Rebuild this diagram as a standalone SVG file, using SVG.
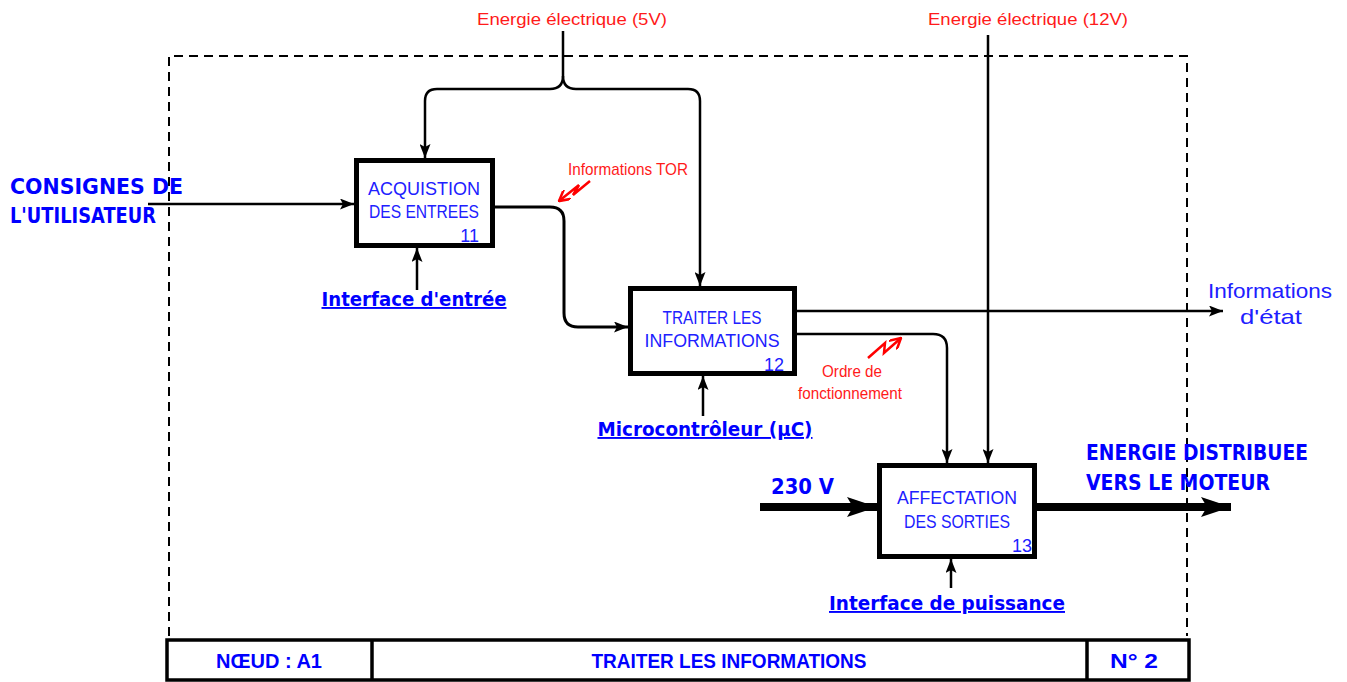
<svg xmlns="http://www.w3.org/2000/svg" width="1347" height="682" viewBox="0 0 1347 682">
<defs>
<style>
.frame{fill:none;stroke:#000;stroke-width:2;stroke-dasharray:9 6}
.box{fill:#fff;stroke:#000;stroke-width:5}
.ln{fill:none;stroke:#000;stroke-width:2.5}
.thick{fill:none;stroke:#000;stroke-width:8}
.bt{font-family:"Liberation Sans",Arial,sans-serif;font-size:18px;fill:#2020ff;text-anchor:middle}
.num{font-family:"Liberation Sans",Arial,sans-serif;font-size:18px;fill:#2020ff;text-anchor:end}
.lab{font-family:"DejaVu Sans","Liberation Sans",sans-serif;font-weight:bold;font-size:19px;fill:#0000ff;text-anchor:middle;text-decoration:underline}
.big{font-family:"DejaVu Sans","Liberation Sans",sans-serif;font-weight:bold;font-size:22px;fill:#0000ff}
.red{font-family:"Liberation Sans",Arial,sans-serif;font-size:17px;fill:#ff1a1a;text-anchor:middle}
.info{font-family:"Liberation Sans",Arial,sans-serif;font-size:21px;fill:#2020ff;text-anchor:middle}
.tb{font-family:"Liberation Sans",Arial,sans-serif;font-weight:bold;font-size:21px;fill:#0000ff;text-anchor:middle}
.zz{fill:none;stroke:#ff0000;stroke-width:2.5}
</style>
<marker id="ah" markerUnits="userSpaceOnUse" viewBox="0 0 14 11" refX="14" refY="5.5" markerWidth="14" markerHeight="11" orient="auto">
<path d="M0,0 L14,5.5 L0,11 L3,5.5 z" fill="#000"/>
</marker>
<marker id="ahb" markerUnits="userSpaceOnUse" viewBox="0 0 30 20" refX="30" refY="10" markerWidth="30" markerHeight="20" orient="auto">
<path d="M0,0 L30,10 L0,20 L6,10 z" fill="#000"/>
</marker>
<marker id="ahr" markerUnits="userSpaceOnUse" viewBox="0 0 12 12" refX="11" refY="6" markerWidth="12" markerHeight="12" orient="auto">
<path d="M0,0 L11,6 L0,12" fill="none" stroke="#ff0000" stroke-width="2.5"/>
</marker>
</defs>
<rect width="1347" height="682" fill="#fff"/>

<g id="frame">
<path class="frame" d="M169,636 V56 H1187 V636"/>
</g>

<g id="titlebar">
<rect x="167" y="640" width="1022" height="40" fill="#fff" stroke="#000" stroke-width="3.5"/>
<line x1="372" y1="640" x2="372" y2="680" stroke="#000" stroke-width="3.5"/>
<line x1="1087" y1="640" x2="1087" y2="680" stroke="#000" stroke-width="3.5"/>
<text class="tb" x="269" y="668" textLength="106" lengthAdjust="spacingAndGlyphs">NŒUD : A1</text>
<text class="tb" x="729" y="668" textLength="275" lengthAdjust="spacingAndGlyphs">TRAITER LES INFORMATIONS</text>
<text class="tb" x="1134" y="668" textLength="48" lengthAdjust="spacingAndGlyphs">N° 2</text>
</g>

<g id="connectors">
<line class="ln" x1="148" y1="204" x2="354" y2="204" marker-end="url(#ah)"/>
<path class="ln" d="M563,31 V76 Q563,89 550,89 H437 Q425,89 425,101 V158" marker-end="url(#ah)"/>
<path class="ln" d="M563,76 Q563,89 576,89 H688 Q700,89 700,101 V286" marker-end="url(#ah)"/>
<line class="ln" x1="417" y1="290" x2="417" y2="248" marker-end="url(#ah)"/>
<path class="ln" style="stroke-width:3" d="M494,207 H550 Q564,207 564,221 V313 Q564,327 578,327 H628" marker-end="url(#ah)"/>
<line class="ln" x1="703" y1="416" x2="703" y2="376" marker-end="url(#ah)"/>
<line class="ln" x1="797" y1="311" x2="1223" y2="311" marker-end="url(#ah)"/>
<path class="ln" d="M797,334 H933 Q947,334 947,348 V463" marker-end="url(#ah)"/>
<line class="ln" x1="988" y1="35" x2="988" y2="463" marker-end="url(#ah)"/>
<line class="ln" x1="951" y1="588" x2="951" y2="559" marker-end="url(#ah)"/>
<line class="thick" x1="760" y1="507" x2="877" y2="507" marker-end="url(#ahb)"/>
<line class="thick" x1="1037" y1="507" x2="1231" y2="507" marker-end="url(#ahb)"/>
<path class="zz" d="M590,181 L573,195 L579,185 L559,201" marker-end="url(#ahr)"/>
<path class="zz" d="M868,358 L885,343 L884,353 L901,338" marker-end="url(#ahr)"/>
</g>

<g id="node11">
<rect class="box" x="356.5" y="160.5" width="136" height="85"/>
<text class="bt" x="424" y="195" textLength="112" lengthAdjust="spacingAndGlyphs">ACQUISTION</text>
<text class="bt" x="424" y="218" textLength="110" lengthAdjust="spacingAndGlyphs">DES ENTREES</text>
<text class="num" x="479" y="242">11</text>
</g>

<g id="node12">
<rect class="box" x="630.5" y="288.5" width="164" height="85"/>
<text class="bt" x="712" y="324" textLength="99" lengthAdjust="spacingAndGlyphs">TRAITER LES</text>
<text class="bt" x="712" y="347" textLength="135" lengthAdjust="spacingAndGlyphs">INFORMATIONS</text>
<text class="num" x="784" y="371">12</text>
</g>

<g id="node13">
<rect class="box" x="879.5" y="465.5" width="155" height="91"/>
<text class="bt" x="957" y="504" textLength="120" lengthAdjust="spacingAndGlyphs">AFFECTATION</text>
<text class="bt" x="957" y="528" textLength="106" lengthAdjust="spacingAndGlyphs">DES SORTIES</text>
<text class="num" x="1032" y="552">13</text>
</g>

<g id="labels">
<text class="big" x="10" y="194" textLength="173" lengthAdjust="spacingAndGlyphs">CONSIGNES DE</text>
<text class="big" x="10" y="223" textLength="146" lengthAdjust="spacingAndGlyphs">L'UTILISATEUR</text>
<text class="lab" x="414" y="306" textLength="185" lengthAdjust="spacingAndGlyphs">Interface d'entrée</text>
<text class="lab" x="705" y="436" textLength="215" lengthAdjust="spacingAndGlyphs">Microcontrôleur (µC)</text>
<text class="lab" x="947" y="610" textLength="236" lengthAdjust="spacingAndGlyphs">Interface de puissance</text>
<text class="big" x="771" y="494" textLength="63" lengthAdjust="spacingAndGlyphs">230 V</text>
<text class="big" x="1086" y="460" textLength="222" lengthAdjust="spacingAndGlyphs">ENERGIE DISTRIBUEE</text>
<text class="big" x="1086" y="490" textLength="184" lengthAdjust="spacingAndGlyphs">VERS LE MOTEUR</text>
<text class="red" x="572" y="25" textLength="190" lengthAdjust="spacingAndGlyphs">Energie électrique (5V)</text>
<text class="red" x="1028" y="25" textLength="200" lengthAdjust="spacingAndGlyphs">Energie électrique (12V)</text>
<text class="red" x="628" y="175" textLength="120" lengthAdjust="spacingAndGlyphs">Informations TOR</text>
<text class="red" x="852" y="377" textLength="60" lengthAdjust="spacingAndGlyphs">Ordre de</text>
<text class="red" x="850" y="399" textLength="104" lengthAdjust="spacingAndGlyphs">fonctionnement</text>
<text class="info" x="1270" y="298" textLength="124" lengthAdjust="spacingAndGlyphs">Informations</text>
<text class="info" x="1271" y="324" textLength="62" lengthAdjust="spacingAndGlyphs">d'état</text>
</g>
</svg>
